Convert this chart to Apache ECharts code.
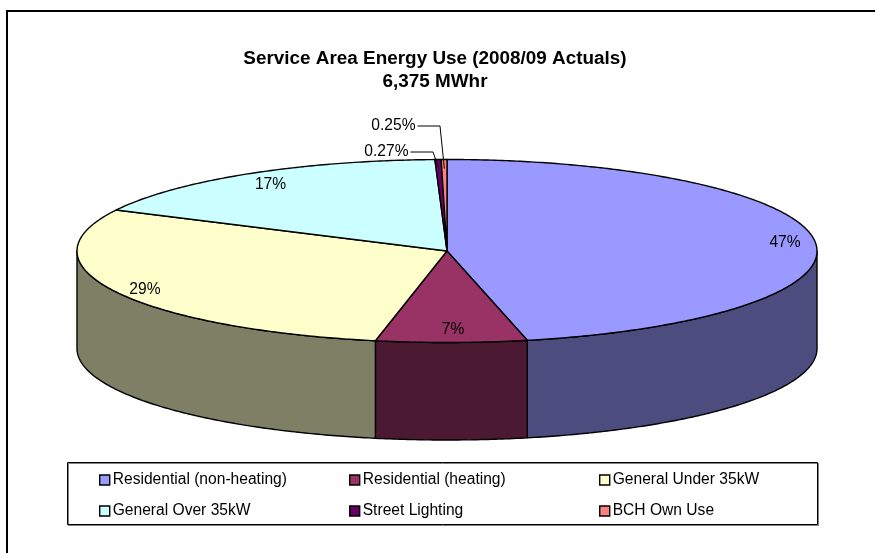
<!DOCTYPE html>
<html>
<head>
<meta charset="utf-8">
<style>
  html, body { margin: 0; padding: 0; background: #fff; }
  #chart { width: 875px; height: 553px; }
</style>
<script src="https://cdn.jsdelivr.net/npm/echarts@6/dist/echarts.min.js"></script>
</head>
<body>
<div id="chart"></div>
<script>
// Share of service area energy use, 2008/09 actuals (percent)
const categories = [
  'Residential (non-heating)',
  'Residential (heating)',
  'General Under 35kW',
  'General Over 35kW',
  'Street Lighting',
  'BCH Own Use'
];
const shares = [46.52, 6.58, 29.3, 17.08, 0.27, 0.25];
const topColors = ['#9999FF', '#993366', '#FFFFCC', '#CCFFFF', '#660066', '#FF8080'];
const sideColors = ['#4C4C7F', '#4C1933', '#7F7F66', '#668080', '#330033', '#804040'];
const titleLines = ['Service Area Energy Use (2008/09 Actuals)', '6,375 MWhr'];

// Tilted disc geometry, in pixels
const disc = { cx: 447, cy: 251, rx: 370, ry: 91.5, depth: 97.5 };
const labelRadius = 0.9;
const labelFont = '15.6px "Liberation Sans", Arial, sans-serif';
// Nudges for the percentage labels on the big slices; callouts for the two slivers
const labelNudge = [[7, 1], [2, -4], [-3, 2], [3, 3]];
const callouts = { 4: { x: 433, y: 152, textX: 408.5 }, 5: { x: 440, y: 126, textX: 415.5 } };

const TAU = Math.PI * 2;
const total = shares.reduce((a, b) => a + b, 0);
let running = 0;
const spans = shares.map(v => {
  const start = running / total * TAU;
  running += v;
  return [start, running / total * TAU];
});

const rimPoint = (a, f = 1, drop = 0) => [
  disc.cx + disc.rx * f * Math.sin(a),
  disc.cy - disc.ry * f * Math.cos(a) + drop
];

function arcPoints(from, to, drop) {
  const steps = Math.max(2, Math.ceil(Math.abs(to - from) / 0.01));
  const pts = [];
  for (let i = 0; i <= steps; i++) pts.push(rimPoint(from + (to - from) * i / steps, 1, drop));
  return pts;
}

function formatShare(v) {
  const pct = v / total * 100;
  return pct < 1 ? pct.toFixed(2) + '%' : Math.round(pct) + '%';
}

const edge = { stroke: '#000', lineWidth: 1.4, lineJoin: 'round' };

// Wall of a slice: only the part of the rim facing the viewer has one
function sideElement(i) {
  const from = Math.max(spans[i][0], Math.PI / 2);
  const to = Math.min(spans[i][1], Math.PI * 1.5);
  if (to <= from) return null;
  const points = arcPoints(from, to, 0).concat(arcPoints(to, from, disc.depth));
  return { type: 'polygon', z2: 1, shape: { points }, style: { fill: sideColors[i], ...edge } };
}

function topElement(i) {
  const points = [[disc.cx, disc.cy]].concat(arcPoints(spans[i][0], spans[i][1], 0));
  return { type: 'polygon', z2: 2, shape: { points }, style: { fill: topColors[i], ...edge } };
}

function labelElements(i) {
  const mid = (spans[i][0] + spans[i][1]) / 2;
  const [x, y] = rimPoint(mid, labelRadius);
  const text = formatShare(shares[i]);
  const textStyle = { text, fill: '#000', font: labelFont, textVerticalAlign: 'middle' };
  const c = callouts[i];
  if (c) {
    return [
      { type: 'polyline', z2: 3, shape: { points: [[c.textX + 2, c.y], [c.x, c.y], [x, y]] },
        style: { stroke: '#000', lineWidth: 1, fill: 'none' } },
      { type: 'text', z2: 4, x: c.textX, y: c.y, style: { ...textStyle, textAlign: 'right' } }
    ];
  }
  return [{ type: 'text', z2: 4, x: x + labelNudge[i][0], y: y + labelNudge[i][1],
    style: { ...textStyle, textAlign: 'center' } }];
}

const series = categories.map((name, i) => ({
  type: 'custom',
  name,
  coordinateSystem: 'none',
  silent: true,
  itemStyle: { color: topColors[i] },
  data: [shares[i]],
  renderItem: () => ({
    type: 'group',
    children: [sideElement(i), topElement(i), ...labelElements(i)].filter(Boolean)
  })
}));

const legendColumn = (left, names) => ({
  left,
  top: 472,
  orient: 'vertical',
  icon: 'rect',
  itemWidth: 10,
  itemHeight: 10,
  itemGap: 15,
  padding: 0,
  selectedMode: false,
  itemStyle: { borderColor: '#000', borderWidth: 1.4 },
  textStyle: { color: '#000', fontSize: 15.6, fontFamily: '"Liberation Sans", Arial, sans-serif', padding: [0, 0, 0, -2] },
  data: names
});

const chart = echarts.init(document.getElementById('chart'), null, { renderer: 'canvas' });
chart.setOption({
  animation: false,
  backgroundColor: '#fff',
  title: {
    text: titleLines.join('\n'),
    left: 430,
    top: 42,
    textAlign: 'center',
    textStyle: { color: '#000', fontSize: 18.9, lineHeight: 23, fontWeight: 'bold', fontFamily: '"Liberation Sans", Arial, sans-serif' }
  },
  legend: [
    legendColumn(99, [categories[0], categories[3]]),
    legendColumn(349, [categories[1], categories[4]]),
    legendColumn(599, [categories[2], categories[5]])
  ],
  graphic: [
    { type: 'polyline', silent: true, shape: { points: [[7, 553], [7, 11], [875, 11]] },
      style: { stroke: '#000', lineWidth: 2, fill: 'none' } },
    { type: 'rect', silent: true, shape: { x: 67.5, y: 462.5, width: 750, height: 62 },
      style: { stroke: '#000', lineWidth: 1, fill: 'none', shadowColor: 'rgba(0,0,0,0.5)', shadowOffsetX: 1, shadowOffsetY: 1 } }
  ],
  series
});
</script>
</body>
</html>
